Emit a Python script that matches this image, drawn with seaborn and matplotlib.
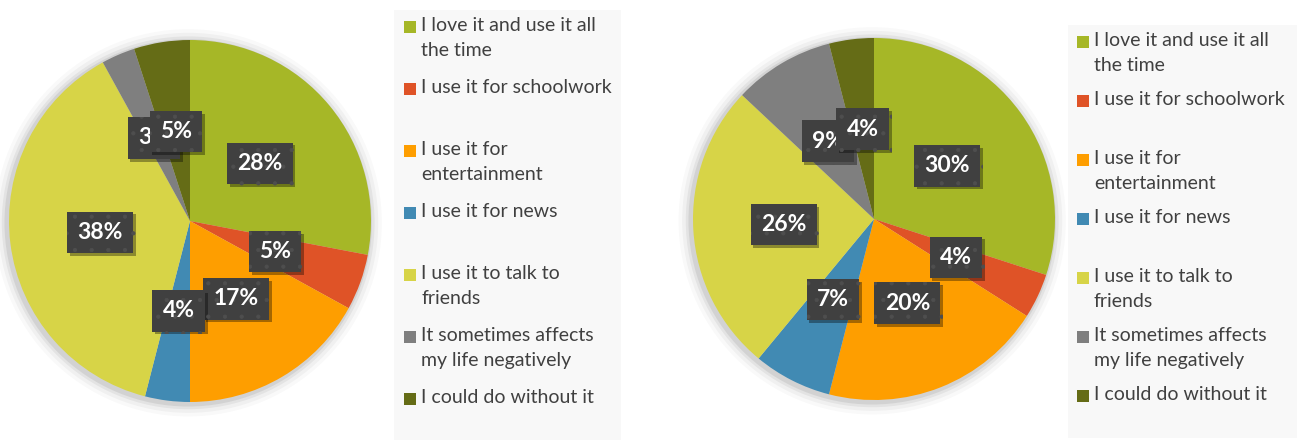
"""Two pie charts: how pupils feel about using the internet."""

import matplotlib.pyplot as plt
import matplotlib.patheffects as pe
from matplotlib.patches import Rectangle, Circle
import seaborn as sns


# Data.
categories = [
    "I love it and use it all\nthe time",
    "I use it for schoolwork",
    "I use it for\nentertainment",
    "I use it for news",
    "I use it to talk to\nfriends",
    "It sometimes affects\nmy life negatively",
    "I could do without it",
]
left_values = [28, 5, 17, 4, 38, 3, 5]
right_values = [30, 4, 20, 7, 26, 9, 4]

slice_colors = ["#A6B727", "#DF5327", "#FE9E00", "#418AB3", "#D7D447", "#7F7F7F", "#656C16"]

# Formatting.
W, H = 1297, 441
text_color = "#404040"
legend_bg = "#F8F8F8"
LIM = 1.12

sns.set_theme(style="white")
plt.rcParams["font.family"] = ["Lato", "DejaVu Sans"]
plt.rcParams["hatch.linewidth"] = 0.6
palette = sns.color_palette(slice_colors)


def pie_rect(cx, cy, r):
    """Axes rect (figure fraction) for a pie of radius r px centred at (cx, cy), top-left origin."""
    half = r * LIM
    return [(cx - half) / W, (H - cy - half) / H, 2 * half / W, 2 * half / H]


def draw_pie(fig, rect, values):
    ax = fig.add_axes(rect)
    # Soft shadow behind the pie.
    for r, a in [(1.07, 0.025), (1.05, 0.035), (1.03, 0.05), (1.015, 0.07)]:
        ax.add_patch(Circle((-0.01, -0.01), r, color="black", alpha=a, lw=0, zorder=0))
    wedges, _, autotexts = ax.pie(
        values,
        colors=palette,
        startangle=90,
        counterclock=False,
        autopct=lambda p: f"{p:.0f}%",
        pctdistance=0.5,
        wedgeprops=dict(linewidth=0, zorder=1),
        textprops=dict(color="white", fontsize=16.5, fontweight="bold"),
    )
    # Dark label boxes with a faint dot texture and drop shadow.
    for t in autotexts:
        t.set_bbox(dict(boxstyle="square,pad=0.45", fc="#404040", ec="#4E4E4E", lw=0, hatch="."))
        t.get_bbox_patch().set_path_effects([
            pe.SimplePatchShadow(offset=(2, -2), shadow_rgbFace="black", alpha=0.35),
            pe.Normal(),
        ])
    ax.set_xlim(-LIM, LIM)
    ax.set_ylim(-LIM, LIM)
    ax.set_aspect("auto")
    ax.axis("off")
    return ax


def draw_legend(fig, box, marker_x, first_y, step):
    x0, y0, x1, y1 = box
    fig.patches.append(Rectangle((x0 / W, (H - y1) / H), (x1 - x0) / W, (y1 - y0) / H,
                                 transform=fig.transFigure, fc=legend_bg, ec="none", zorder=0))
    for i, (label, color) in enumerate(zip(categories, palette)):
        y = first_y + i * step
        fig.patches.append(Rectangle((marker_x / W, (H - y - 6) / H), 12 / W, 12 / H,
                                     transform=fig.transFigure, fc=color, ec="none", zorder=1))
        fig.text((marker_x + 17) / W, (H - y + 10) / H, label, color=text_color, fontsize=14,
                 va="top", ha="left", linespacing=1.55, zorder=2)


fig = plt.figure(figsize=(W / 100, H / 100), dpi=100)
fig.patch.set_facecolor("white")

draw_pie(fig, pie_rect(190, 221, 181), left_values)
draw_pie(fig, pie_rect(874, 219, 181), right_values)

draw_legend(fig, (394, 10, 621, 440), 404, 27, 62)
draw_legend(fig, (1068, 25, 1297, 438), 1077, 42, 59)

fig.savefig("out.png", dpi=100)
